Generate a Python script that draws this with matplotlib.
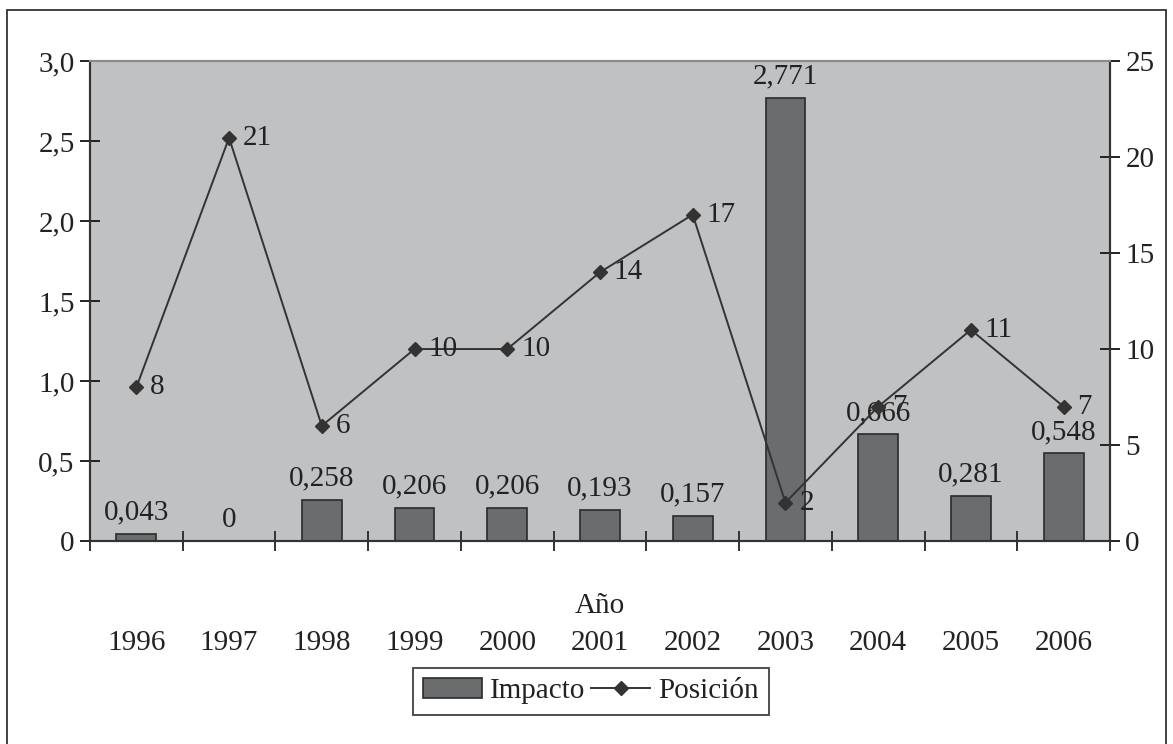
import matplotlib

matplotlib.use("Agg")
import matplotlib.pyplot as plt
from matplotlib.lines import Line2D
from matplotlib.patches import Patch, Rectangle

years = ["1996", "1997", "1998", "1999", "2000", "2001", "2002", "2003", "2004", "2005", "2006"]
impacto = [0.043, 0, 0.258, 0.206, 0.206, 0.193, 0.157, 2.771, 0.666, 0.281, 0.548]
posicion = [8, 21, 6, 10, 10, 14, 17, 2, 7, 11, 7]
left_ticks = [0, 0.5, 1.0, 1.5, 2.0, 2.5, 3.0]
left_labels = ["0", "0,5", "1,0", "1,5", "2,0", "2,5", "3,0"]
right_ticks = [0, 5, 10, 15, 20, 25]

plt.rcParams["font.family"] = ["Liberation Serif", "DejaVu Serif"]
FS = 21
TXT = "#222222"
BAR = "#6b6c6e"
LINE = "#333333"

fig = plt.figure(figsize=(11.73, 7.44), dpi=100)
ax = fig.add_axes([0.0767, 0.2728, 0.8696, 0.6452])
ax.set_facecolor("#c0c1c3")
x = list(range(len(years)))

ax.bar(x, impacto, width=0.43, color=BAR, edgecolor="#2a2a2a", linewidth=1.2, zorder=2)
for xi, v in zip(x, impacto):
    lab = "0" if v == 0 else f"{v:.3f}".replace(".", ",")
    ax.annotate(lab, (xi, v), xytext=(0, 6), textcoords="offset points",
                ha="center", va="bottom", fontsize=FS, color=TXT)

ax.set_xlim(-0.5, len(years) - 0.5)
ax.set_ylim(0, 3.0)
ax.set_yticks(left_ticks)
ax.set_yticklabels(left_labels)
ax.set_xticks(x)
ax.set_xticklabels(years)
ax.set_xticks([i - 0.5 for i in range(len(years) + 1)], minor=True)
ax.tick_params(axis="x", which="major", length=0, pad=64, labelsize=FS, colors=TXT)
ax.tick_params(axis="x", which="minor", length=14, width=1.4, direction="inout", color="#333333")
ax.tick_params(axis="y", direction="inout", length=14, width=1.4, labelsize=FS,
               colors=TXT, pad=4)

ax2 = ax.twinx()
ax2.plot(x, posicion, color=LINE, linewidth=1.4, marker="D", markersize=7,
         markerfacecolor=LINE, markeredgecolor=LINE, zorder=3)
for xi, v in zip(x, posicion):
    ax2.annotate(str(v), (xi, v), xytext=(10, 0), textcoords="offset points",
                 ha="left", va="center", fontsize=FS, color=TXT)
ax2.set_ylim(0, 25)
ax2.set_yticks(right_ticks)
ax2.tick_params(axis="y", direction="inout", length=14, width=1.4, labelsize=FS,
                colors=TXT, pad=4)

for a in (ax, ax2):
    for side in ("left", "right", "bottom"):
        a.spines[side].set_color("#333333")
        a.spines[side].set_linewidth(1.5)
    a.spines["top"].set_color("#8a8a8a")
    a.spines["top"].set_linewidth(1.5)

fig.text(0.5115, 0.185, "Año", ha="center", va="center", fontsize=FS, color=TXT)

handles = [Patch(facecolor=BAR, edgecolor="#2a2a2a", linewidth=1.2),
           Line2D([0], [0], color=LINE, linewidth=1.4, marker="D", markersize=7)]
leg = fig.legend(handles, ["Impacto", "Posición"], loc="center",
                 bbox_to_anchor=(0.504, 0.071), ncol=2, fontsize=FS, frameon=True,
                 fancybox=False, edgecolor="#222222", handlelength=2.0,
                 handletextpad=0.3, columnspacing=0.2, borderpad=0.35)
leg.get_frame().set_linewidth(1.4)
for t in leg.get_texts():
    t.set_color(TXT)

fig.patches.append(Rectangle((7 / 1173, -0.01), 1159 / 1173, 1.01 - 10 / 744,
                             transform=fig.transFigure, fill=False,
                             edgecolor="#333333", linewidth=1.3))

fig.savefig("out.png", dpi=100)
